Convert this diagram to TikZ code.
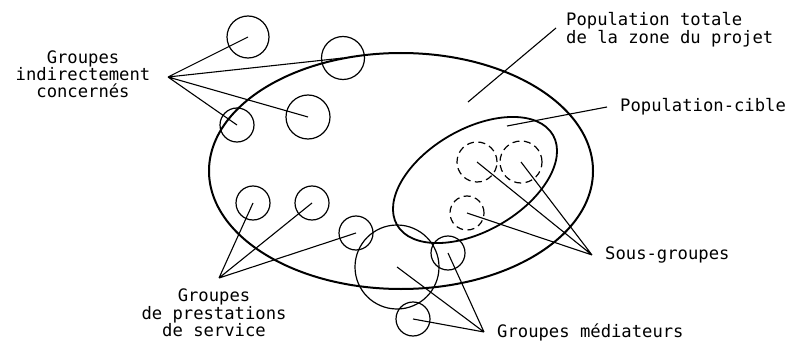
\documentclass[tikz,border=0pt]{standalone}
\usepackage{fontspec}
\newfontfamily\plotfont{DejaVu Sans Mono}
\usetikzlibrary{positioning}

\begin{document}
\begin{tikzpicture}[x=1pt,y=-1pt,font=\plotfont\fontsize{17.2}{16.5}\selectfont,
  grp/.style={draw,circle,line width=1.2pt,inner sep=0pt,minimum size=#1},
  sub/.style={grp=#1,dash pattern=on 7pt off 4.5pt},
  lead/.style={line width=1.1pt},
  lbl/.style={inner sep=1pt,align=center}]
\useasboundingbox (0,0) rectangle (792,342);
% populations
\draw[line width=2pt] (401,171) ellipse [x radius=192pt,y radius=118pt];
\draw[line width=1.8pt,rotate around={30:(475,180)}] (475,180) ellipse [x radius=90pt,y radius=51pt];
\coordinate (totS) at (468,102);
\coordinate (totE) at (556,28);
\node[lbl,align=left,anchor=west] (lblTot) at (565,30) {Population totale\\de la zone du projet};
\draw[lead] (totS) -- (totE);
\coordinate (cibS) at (507,126);
\coordinate (cibE) at (607,107);
\node[lbl,right=12pt of cibE] (lblCib) {Population-cible};
\draw[lead] (cibS) -- (cibE);
% groupes indirectement concernes
\node[grp=42pt] (ind1) at (248,37) {};
\node[grp=43pt] (ind2) at (343,58) {};
\node[grp=44pt] (ind3) at (308,117) {};
\node[grp=34pt] (ind4) at (237,125) {};
\coordinate (hubI) at (168,77);
\node[lbl] (lblInd) at (83,74) {Groupes\\indirectement\\concernés};
\draw[lead] (hubI)--(ind1.center) (hubI)--(ind2.center) (hubI)--(ind3.center) (hubI)--(ind4.center);
% prestations de service
\node[grp=34pt] (pre1) at (253,203) {};
\node[grp=34pt] (pre2) at (312,203) {};
\node[grp=34pt] (pre3) at (356,233) {};
\coordinate (hubP) at (219,278);
\node[lbl] (lblPre) at (214,313) {Groupes\\de prestations\\de service};
\draw[lead] (hubP)--(pre1.center) (hubP)--(pre2.center) (hubP)--(pre3.center);
% mediateurs
\node[grp=84pt] (med1) at (397,267) {};
\node[grp=34pt] (med2) at (448,253) {};
\node[grp=34pt] (med3) at (413,319) {};
\coordinate (hubM) at (484,332);
\node[lbl,right=12pt of hubM] (lblMed) {Groupes médiateurs};
\draw[lead] (hubM)--(med1.center) (hubM)--(med2.center) (hubM)--(med3.center);
% sous-groupes
\node[sub=40pt] (sg1) at (477,162) {};
\node[sub=42pt] (sg2) at (521,162) {};
\node[sub=34pt] (sg3) at (467,213) {};
\coordinate (hubS) at (592,255);
\node[lbl,right=12pt of hubS] (lblSous) {Sous-groupes};
\draw[lead] (hubS)--(sg1.center) (hubS)--(sg2.center) (hubS)--(sg3.center);
\end{tikzpicture}
\end{document}
